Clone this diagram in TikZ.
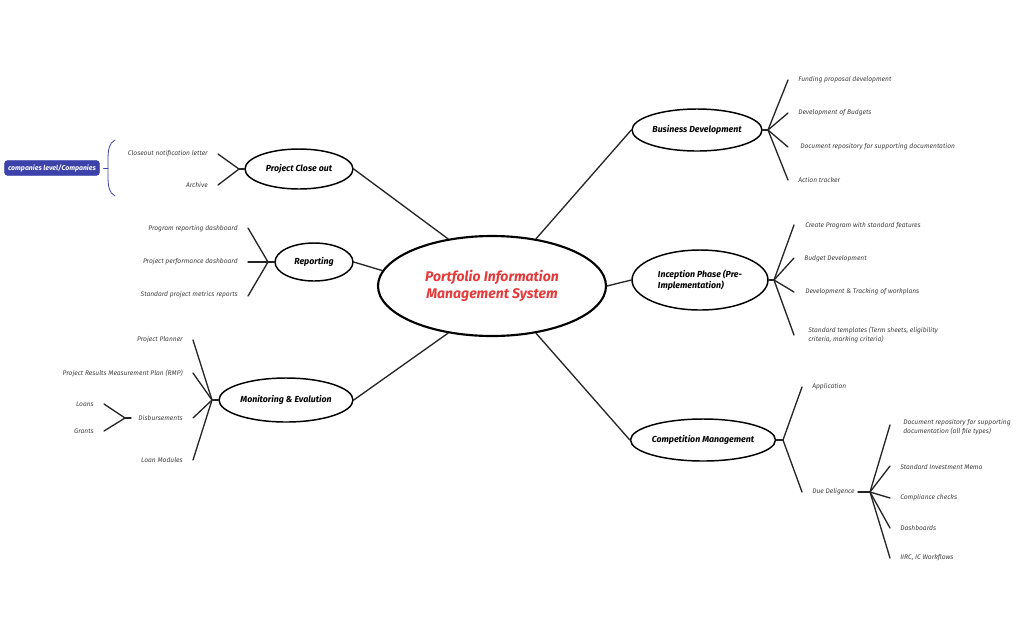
\documentclass[tikz,border=0pt]{standalone}
\usepackage{fontspec}
\setmainfont{Fira Sans}
\usetikzlibrary{shapes.geometric}
\definecolor{cred}{RGB}{228,58,58}
\definecolor{cblue}{RGB}{60,66,170}
\begin{document}
\begin{tikzpicture}[x=0.75pt,y=-0.75pt,line cap=round,
  lbl/.style={font=\fontsize{5}{6.2}\selectfont\itshape,text=black!75,inner sep=0pt},
  lr/.style={lbl,anchor=west},
  ll/.style={lbl,anchor=east},
  conn/.style={line width=1pt,black!85},
  topic/.style={draw,ellipse,line width=1.1pt,inner sep=0pt,font=\fontsize{6.6}{8}\selectfont\bfseries\itshape}]
\useasboundingbox (0,0) rectangle (1029,637);
% central
\node[draw,ellipse,line width=1.6pt,minimum width=171pt,minimum height=75pt,inner sep=0pt,align=center,text=cred,font=\fontsize{10.5}{13}\selectfont\bfseries\itshape] (c) at (492,286) {Portfolio Information\\Management System};
% topics
\node[topic,minimum width=97.5pt,minimum height=31.5pt] (bd) at (697,130) {Business Development};
\node[topic,minimum width=102pt,minimum height=45pt,align=left] (ip) at (700,280) {Inception Phase (Pre-\\Implementation)};
\node[topic,minimum width=108pt,minimum height=31.5pt] (cm) at (703,440) {Competition Management};
\node[topic,minimum width=81pt,minimum height=30pt] (pc) at (299,169) {Project Close out};
\node[topic,minimum width=58.5pt,minimum height=28.5pt] (rp) at (314,262) {Reporting};
\node[topic,minimum width=100.5pt,minimum height=33pt] (me) at (286,400) {Monitoring \& Evalution};
\draw[conn] (c.47) -- (bd.west);
\draw[conn] (c.east) -- (ip.west);
\draw[conn] (c.-47) -- (cm.west);
\draw[conn] (c.133) -- (pc.east);
\draw[conn] (c.172) -- (rp.east);
\draw[conn] (c.-133) -- (me.east);
% hubs
\coordinate (hbd) at (768,130);
\coordinate (hip) at (774,280);
\coordinate (hcm) at (783,440);
\coordinate (hpc) at (239,169);
\coordinate (hrp) at (268,262);
\coordinate (hme) at (212,400);
\draw[conn] (bd.east) -- (hbd); \draw[conn] (ip.east) -- (hip); \draw[conn] (cm.east) -- (hcm);
\draw[conn] (pc.west) -- (hpc); \draw[conn] (rp.west) -- (hrp); \draw[conn] (me.west) -- (hme);
% business development
\node[lr] (b1) at (798,80) {Funding proposal development};
\node[lr] (b2) at (798,113) {Development of Budgets};
\node[lr] (b3) at (800,147) {Document repository for supporting documentation};
\node[lr] (b4) at (798,180) {Action tracker};
\foreach \y in {80,113,147,180} \draw[conn] (hbd) -- (788,\y);
% inception
\node[lr] (i1) at (805,226) {Create Program with standard features};
\node[lr] (i2) at (804,259) {Budget Development};
\node[lr] (i3) at (805,292) {Development \& Tracking of workplans};
\node[lr,align=left] (i4) at (808,335) {Standard templates (Term sheets, eligibility\\criteria, marking criteria)};
\foreach \y in {225,258,292,335} \draw[conn] (hip) -- (794,\y);
% competition
\node[lr] (a1) at (812,387) {Application};
\node[lr] (a2) at (812,492) {Due Deligence};
\draw[conn] (hcm) -- (802,387); \draw[conn] (hcm) -- (802,492);
\coordinate (hdd) at (870,492);
\draw[conn] (a2.east)++(3,0) -- (hdd);
\node[lr,align=left] (d1) at (903,427) {Document repository for supporting\\documentation (all file types)};
\node[lr] (d2) at (900,467) {Standard Investment Memo};
\node[lr] (d3) at (900,498) {Compliance checks};
\node[lr] (d4) at (900,528) {Dashboards};
\node[lr] (d5) at (900,558) {IIRC, IC Workflows};
\draw[conn] (hdd) -- (890,425); \draw[conn] (hdd) -- (890,466); \draw[conn] (hdd) -- (890,498);
\draw[conn] (hdd) -- (890,528); \draw[conn] (hdd) -- (890,558);
% close out
\node[ll] (p1) at (208,154) {Closeout notification letter};
\node[ll] (p2) at (208,185) {Archive};
\draw[conn] (hpc) -- (218,154); \draw[conn] (hpc) -- (218,185);
% reporting
\node[ll] (r1) at (238,229) {Program reporting dashboard};
\node[ll] (r2) at (238,262) {Project performance dashboard};
\node[ll] (r3) at (238,295) {Standard project metrics reports};
\foreach \y in {228,262,296} \draw[conn] (hrp) -- (248,\y);
% monitoring
\node[ll] (m1) at (183,340) {Project Planner};
\node[ll] (m2) at (183,373) {Project Results Measurement Plan (RMP)};
\node[ll] (m3) at (183,418) {Disbursements};
\node[ll] (m4) at (183,460) {Loan Modules};
\foreach \y in {340,373,418,460} \draw[conn] (hme) -- (193,\y);
\coordinate (hdi) at (125,418);
\draw[conn] (131,418) -- (hdi);
\node[ll] (l1) at (94,404) {Loans};
\node[ll] (l2) at (94,431) {Grants};
\draw[conn] (hdi) -- (104,404); \draw[conn] (hdi) -- (104,431);
% companies
\node[draw=cblue,fill=cblue,rounded corners=2pt,text=white,minimum width=71pt,minimum height=11pt,inner sep=1pt,font=\fontsize{5.2}{6.5}\selectfont\bfseries\itshape] (co) at (52,168) {companies level/Companies};
\draw[cblue,line width=0.6pt] (115,140) .. controls (109,143) and (108,150) .. (108,160) -- (108,176) .. controls (108,186) and (109,193) .. (115,196);
\draw[cblue,line width=0.6pt] (co.east)++(4,0) -- (108,168);
\end{tikzpicture}
\end{document}
